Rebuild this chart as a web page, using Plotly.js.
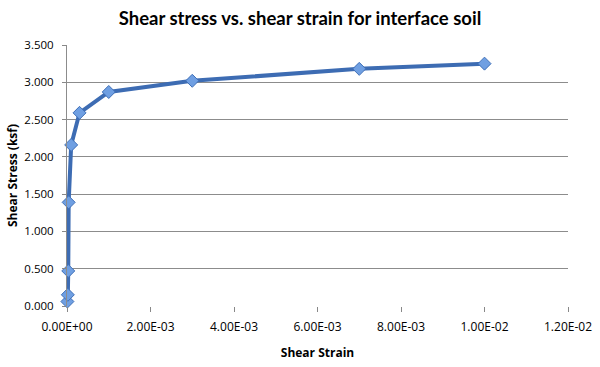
<!DOCTYPE html>
<html>
<head>
<meta charset="utf-8">
<script src="https://cdn.plot.ly/plotly-3.0.1.min.js"></script>
<style>html,body{margin:0;padding:0;background:#fff}#chart{width:600px;height:367px}</style>
</head>
<body>
<div id="chart"></div>
<script>
const shearStrain = [0.00001, 0.00002, 0.00003, 0.00004, 0.0001, 0.0003, 0.001, 0.003, 0.007, 0.01];
const shearStress = [0.06, 0.15, 0.47, 1.39, 2.16, 2.59, 2.87, 3.02, 3.18, 3.25];
const xTickVals = [0, 0.002, 0.004, 0.006, 0.008, 0.010, 0.012];
const xTickText = ["0.00E+00", "2.00E-03", "4.00E-03", "6.00E-03", "8.00E-03", "1.00E-02", "1.20E-02"];
const yTickVals = [0, 0.5, 1, 1.5, 2, 2.5, 3, 3.5];

const trace = {
  x: shearStrain, y: shearStress, type: 'scatter', mode: 'lines+markers',
  line: {color: '#3d6cb3', width: 4},
  marker: {symbol: 'diamond', size: 10, color: '#6f9fe2', line: {color: '#3f70b8', width: 1}},
  cliponaxis: false, showlegend: false
};
const font = 'Open Sans, Lato, sans-serif';
const titleFont = 'Lato, Open Sans, sans-serif';
const layout = {
  width: 600, height: 367,
  margin: {l: 67, r: 32, t: 45, b: 61},
  paper_bgcolor: '#fff', plot_bgcolor: '#fff',
  title: {text: '<b>Shear stress vs. shear strain for interface soil</b>', x: 0.5, xanchor: 'center', y: 0.95, yanchor: 'middle', font: {family: titleFont, size: 18.5, color: '#000'}},
  xaxis: {
    range: [0, 0.012], tickvals: xTickVals, ticktext: xTickText,
    showgrid: false, zeroline: false, showline: false,
    ticks: 'outside', ticklen: 5, tickcolor: '#888', tickwidth: 1,
    ticklabelstandoff: 5,
    tickfont: {family: font, size: 12, color: '#000'},
    title: {text: '<b>Shear Strain</b>', font: {family: font, size: 12, color: '#000'}, standoff: 14}
  },
  yaxis: {
    range: [0, 3.5], tickvals: yTickVals, tickformat: '.3f',
    showgrid: true, gridcolor: '#8c8c8c', gridwidth: 1,
    zeroline: false, showline: true, linecolor: '#8c8c8c', linewidth: 1,
    ticks: 'outside', ticklen: 4, tickcolor: '#888',
    ticklabelstandoff: 6,
    tickfont: {family: font, size: 11.5, color: '#000'},
    title: {text: '<b>Shear Stress (ksf)</b>', font: {family: font, size: 12, color: '#000'}, standoff: 4}
  }
};
Plotly.newPlot('chart', [trace], layout, {displayModeBar: false, staticPlot: true});
</script>
</body>
</html>
